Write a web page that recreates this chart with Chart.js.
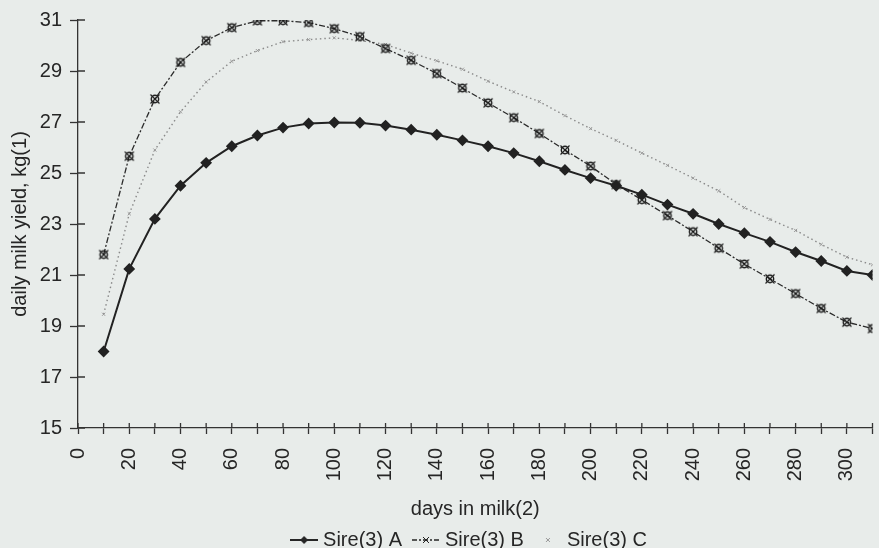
<!DOCTYPE html>
<html>
<head>
<meta charset="utf-8">
<script src="https://cdn.jsdelivr.net/npm/chart.js@4.4.1/dist/chart.umd.min.js"></script>
<style>
html,body{margin:0;padding:0;background:#e8ecea;}
#mycanvas{display:block;}
</style>
</head>
<body>
<canvas id="mycanvas" width="879" height="548"></canvas>
<script>
// days in milk, one point every 10 days
var days = [10,20,30,40,50,60,70,80,90,100,110,120,130,140,150,160,170,180,190,200,210,220,230,240,250,260,270,280,290,300,310];
var sireA = [18.0,21.24,23.2,24.5,25.4,26.05,26.47,26.78,26.94,26.98,26.97,26.86,26.7,26.5,26.28,26.05,25.78,25.46,25.12,24.8,24.5,24.15,23.76,23.4,23.0,22.64,22.3,21.9,21.55,21.16,21.0];
var sireB = [21.8,25.66,27.9,29.34,30.19,30.7,30.97,30.97,30.9,30.66,30.35,29.88,29.42,28.9,28.33,27.75,27.17,26.55,25.9,25.27,24.55,23.95,23.33,22.7,22.05,21.43,20.85,20.27,19.69,19.15,18.9];
var sireC = [19.46,23.4,25.9,27.4,28.57,29.38,29.8,30.15,30.23,30.3,30.2,30.04,29.7,29.4,29.07,28.6,28.18,27.8,27.25,26.74,26.28,25.78,25.3,24.8,24.3,23.64,23.18,22.75,22.2,21.7,21.4];
var seriesNames = ['Sire(3) A','Sire(3) B','Sire(3) C'];
var yMin = 15, yMax = 31, yStep = 2;
var xMin = 0, xMax = 310, xStep = 10, xLabelEvery = 20;

var ink = '#262626';

function pts(vals){
  var out = [];
  for (var i in days) out.push({x: days[i], y: vals[i]});
  return out;
}

// marker for sire B: open circle with a cross through it
function markB(){
  var c = document.createElement('canvas');
  c.width = 12; c.height = 12;
  var g = c.getContext('2d');
  g.strokeStyle = '#1a1a1a'; g.lineWidth = 1.4;
  g.beginPath(); g.arc(6,6,3.7,0,Math.PI*2); g.stroke();
  g.lineWidth = 1.2;
  g.beginPath();
  g.moveTo(1.5,1.5); g.lineTo(10.5,10.5);
  g.moveTo(10.5,1.5); g.lineTo(1.5,10.5);
  g.stroke();
  return c;
}

function legendIcon(which){
  var c = document.createElement('canvas');
  c.width = 28; c.height = 12;
  var g = c.getContext('2d');
  g.strokeStyle = ink; g.fillStyle = ink;
  if (which == 0) {
    g.lineWidth = 2;
    g.beginPath(); g.moveTo(0,6); g.lineTo(28,6); g.stroke();
    g.beginPath(); g.moveTo(14,2); g.lineTo(18,6); g.lineTo(14,10); g.lineTo(10,6); g.closePath(); g.fill();
  } else if (which == 1) {
    g.lineWidth = 1.3;
    g.setLineDash([5,2,2,2]);
    g.beginPath(); g.moveTo(0,6); g.lineTo(28,6); g.stroke();
    g.setLineDash([]);
    g.lineWidth = 1;
    g.beginPath();
    g.moveTo(11,3); g.lineTo(17,9); g.moveTo(17,3); g.lineTo(11,9);
    g.stroke();
  } else {
    g.strokeStyle = '#999'; g.lineWidth = 1;
    g.beginPath();
    g.moveTo(12,4); g.lineTo(16,8); g.moveTo(16,4); g.lineTo(12,8);
    g.stroke();
  }
  return c;
}

var icons = [legendIcon(0), legendIcon(1), legendIcon(2)];

var crossTicks = {
  id: 'crossTicks',
  afterDraw: function(chart){
    var ctx = chart.ctx, xs = chart.scales.x, ys = chart.scales.y;
    ctx.save();
    ctx.strokeStyle = '#333'; ctx.lineWidth = 1.3;
    ctx.beginPath();
    xs.ticks.forEach(function(t){
      var px = xs.getPixelForValue(t.value);
      ctx.moveTo(px, xs.top); ctx.lineTo(px, xs.top - 5);
    });
    ys.ticks.forEach(function(t){
      var py = ys.getPixelForValue(t.value);
      ctx.moveTo(ys.right, py); ctx.lineTo(ys.right + 7, py);
    });
    ctx.stroke();
    ctx.restore();
  },
  afterLayout: function(chart){
    var lg = chart.legend;
    lg.left += 32; lg.right += 32;
    lg.top += 12; lg.bottom += 12;
  }
};

Chart.defaults.font.family = '"Liberation Sans", Arial, sans-serif';
Chart.defaults.font.size = 20;
Chart.defaults.color = ink;

var ctx = document.getElementById('mycanvas');
var chart = new Chart(ctx, {
  type: 'line',
  data: {
    datasets: [
      {
        label: seriesNames[0],
        data: pts(sireA),
        borderColor: '#222',
        backgroundColor: '#222',
        borderWidth: 2,
        pointStyle: 'rectRot',
        pointRadius: 4.5,
        pointBackgroundColor: '#222',
        pointBorderColor: '#222',
        tension: 0
      },
      {
        label: seriesNames[1],
        data: pts(sireB),
        borderColor: '#2a2a2a',
        borderWidth: 1.3,
        borderDash: [6,2,2,2],
        pointStyle: markB(),
        tension: 0
      },
      {
        label: seriesNames[2],
        data: pts(sireC),
        borderColor: '#8a8a8a',
        borderWidth: 1.4,
        borderDash: [1.5,3],
        pointStyle: 'crossRot',
        pointRadius: 2.2,
        pointBorderColor: '#999',
        pointBorderWidth: 1,
        tension: 0
      }
    ]
  },
  options: {
    responsive: false,
    devicePixelRatio: 1,
    animation: false,
    layout: { padding: { top: 20, right: 1, left: 0, bottom: 0 } },
    plugins: {
      tooltip: { enabled: false },
      legend: {
        position: 'bottom',
        labels: {
          usePointStyle: true,
          pointStyleWidth: 18,
          padding: 15,
          color: ink,
          font: { size: 20 },
          generateLabels: function(chart){
            var items = Chart.defaults.plugins.legend.labels.generateLabels(chart);
            items.forEach(function(it, i){ it.pointStyle = icons[i]; });
            return items;
          }
        }
      }
    },
    scales: {
      x: {
        type: 'linear',
        min: xMin, max: xMax,
        border: { color: '#333', width: 1.3 },
        grid: { drawOnChartArea: false, tickLength: 6, tickColor: '#333', tickWidth: 1.3 },
        ticks: {
          stepSize: xStep,
          autoSkip: false,
          minRotation: 90, maxRotation: 90,
          padding: 14,
          color: ink,
          callback: function(v){ return v % xLabelEvery === 0 ? String(v) : ''; }
        },
        title: { display: true, text: 'days in milk(2)', color: ink, font: { size: 20 }, padding: { top: 0, bottom: -18 } },
        afterFit: function(s){ s.height = 75; s.paddingLeft = 0; s.paddingRight = 0; }
      },
      y: {
        min: yMin, max: yMax,
        border: { color: '#333', width: 1.3 },
        grid: { drawOnChartArea: false, tickLength: 8, tickColor: '#333', tickWidth: 1.3 },
        ticks: { stepSize: yStep, padding: 8, color: ink },
        title: { display: true, text: 'daily milk yield, kg(1)', color: ink, font: { size: 20 }, padding: { top: 8, bottom: 0 } },
        afterFit: function(s){ s.width = 78; s.paddingTop = 0; s.paddingBottom = 0; }
      }
    }
  },
  plugins: [crossTicks]
});
</script>
</body>
</html>
